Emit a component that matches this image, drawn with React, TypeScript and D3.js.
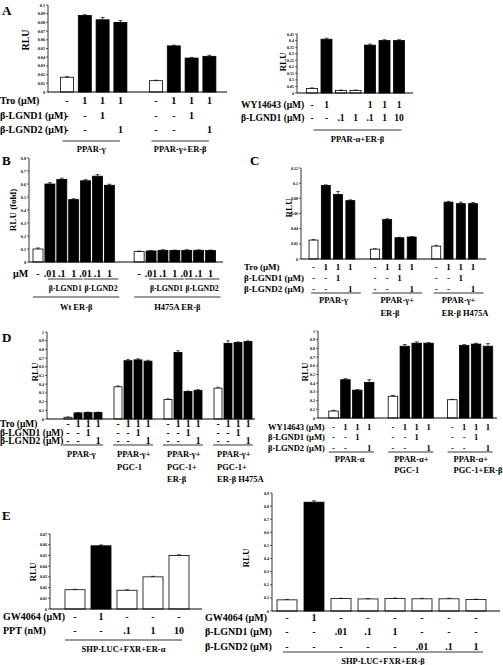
import React from "react";
import * as d3 from "d3";

const FONT = "'Liberation Serif','Times New Roman',Times,serif";

// ---------------- DATA ----------------
// Panel A (left)
const aLValues = [0.017, 0.088, 0.083, 0.080, 0.013, 0.053, 0.039, 0.041];
const aLErrors = [0.0006, 0.0008, 0.0025, 0.002, 0.0005, 0.0008, 0.0008, 0.0012];
const aLFills = [0, 1, 1, 1, 0, 1, 1, 1];
const aLGroupSizes = [4, 4];
const aLTicks = [0, 0.01, 0.02, 0.03, 0.04, 0.05, 0.06, 0.07, 0.08, 0.09, 0.1];
const aLRowNames = ["Tro (μM)", "β-LGND1 (μM)", "β-LGND2 (μM)"];
const aLRows = [
  ["-", "1", "1", "1", "-", "1", "1", "1"],
  ["-", "-", "1", "", "-", "-", "1", ""],
  ["-", "-", "", "1", "-", "-", "", "1"],
];
const aLGroups = [["PPAR-γ"], ["PPAR-γ+ER-β"]];

// Panel A (right)
const aRValues = [0.035, 0.41, 0.02, 0.02, 0.365, 0.40, 0.40];
const aRErrors = [0.004, 0.008, 0.002, 0.002, 0.008, 0.006, 0.006];
const aRFills = [0, 1, 0, 0, 1, 1, 1];
const aRGroupSizes = [7];
const aRTicks = [0, 0.05, 0.1, 0.15, 0.2, 0.25, 0.3, 0.35, 0.4, 0.45];
const aRRowNames = ["WY14643 (μM)", "β-LGND1 (μM)"];
const aRRows = [
  ["-", "1", "", "", "1", "1", "1"],
  ["-", "-", ".1", "1", ".1", "1", "10"],
];
const aRGroups = [["PPAR-α+ER-β"]];

// Panel B
const bValues = [0.1, 0.6, 0.635, 0.48, 0.625, 0.66, 0.59, 0.08, 0.085, 0.09, 0.088, 0.09, 0.09, 0.088];
const bErrors = [0.008, 0.01, 0.01, 0.006, 0.008, 0.012, 0.008, 0.004, 0.004, 0.004, 0.004, 0.004, 0.004, 0.004];
const bFills = [0, 1, 1, 1, 1, 1, 1, 0, 1, 1, 1, 1, 1, 1];
const bGroupSizes = [7, 7];
const bTicks = [0, 0.1, 0.2, 0.3, 0.4, 0.5, 0.6, 0.7, 0.8];
const bRowNames = ["μM"];
const bRows = [["-", ".01", ".1", "1", ".01", ".1", "1", "-", ".01", ".1", "1", ".01", ".1", "1"]];
const bSubLabels = ["β-LGND1", "β-LGND2", "β-LGND1", "β-LGND2"];
const bSubRanges = [[1, 3], [4, 6], [8, 10], [11, 13]];
const bGroups = [["Wt ER-β"], ["H475A ER-β"]];

// Panel C
const cValues = [0.025, 0.097, 0.085, 0.077, 0.013, 0.052, 0.028, 0.029, 0.017, 0.075, 0.073, 0.073];
const cErrors = [0.0005, 0.0008, 0.004, 0.001, 0.0005, 0.001, 0.0006, 0.0005, 0.001, 0.001, 0.002, 0.0015];
const cFills = [0, 1, 1, 1, 0, 1, 1, 1, 0, 1, 1, 1];
const cGroupSizes = [4, 4, 4];
const cTicks = [0, 0.02, 0.04, 0.06, 0.08, 0.1, 0.12];
const cRowNames = ["Tro (μM)", "β-LGND1 (μM)", "β-LGND2 (μM)"];
const cRows = [
  ["-", "1", "1", "1", "-", "1", "1", "1", "-", "1", "1", "1"],
  ["-", "-", "1", "", "-", "-", "1", "", "-", "-", "1", ""],
  ["-", "-", "", "1", "-", "-", "", "1", "-", "-", "", "1"],
];
const cGroups = [["PPAR-γ"], ["PPAR-γ+", "ER-β"], ["PPAR-γ+", "ER-β H475A"]];

// Panel D (left)
const dLValues = [0.02, 0.07, 0.075, 0.075, 0.37, 0.67, 0.68, 0.665, 0.225, 0.765, 0.315, 0.33, 0.355, 0.87, 0.88, 0.89];
const dLErrors = [0.004, 0.004, 0.004, 0.004, 0.01, 0.015, 0.012, 0.01, 0.006, 0.02, 0.006, 0.008, 0.01, 0.03, 0.006, 0.008];
const dLFills = [0, 1, 1, 1, 0, 1, 1, 1, 0, 1, 1, 1, 0, 1, 1, 1];
const dLGroupSizes = [4, 4, 4, 4];
const dTicks = [0, 0.1, 0.2, 0.3, 0.4, 0.5, 0.6, 0.7, 0.8, 0.9, 1];
const dLRowNames = ["Tro (μM)", "β-LGND1 (μM)", "β-LGND2 (μM)"];
const dLRows = [
  ["-", "1", "1", "1", "-", "1", "1", "1", "-", "1", "1", "1", "-", "1", "1", "1"],
  ["-", "-", "1", "", "-", "-", "1", "", "-", "-", "1", "", "-", "-", "1", ""],
  ["-", "-", "", "1", "-", "-", "", "1", "-", "-", "", "1", "-", "-", "", "1"],
];
const dLGroups = [["PPAR-γ"], ["PPAR-γ+", "PGC-1"], ["PPAR-γ+", "PGC-1+", "ER-β"], ["PPAR-γ+", "PGC-1+", "ER-β H475A"]];

// Panel D (right)
const dRValues = [0.08, 0.44, 0.32, 0.41, 0.25, 0.825, 0.86, 0.86, 0.21, 0.835, 0.85, 0.825];
const dRErrors = [0.008, 0.012, 0.006, 0.03, 0.01, 0.02, 0.015, 0.006, 0.004, 0.008, 0.01, 0.03];
const dRFills = [0, 1, 1, 1, 0, 1, 1, 1, 0, 1, 1, 1];
const dRGroupSizes = [4, 4, 4];
const dRRowNames = ["WY14643 (μM)", "β-LGND1 (μM)", "β-LGND2 (μM)"];
const dRRows = [
  ["-", "1", "1", "1", "-", "1", "1", "1", "-", "1", "1", "1"],
  ["-", "-", "1", "", "-", "-", "1", "", "-", "-", "1", ""],
  ["-", "-", "", "1", "-", "-", "", "1", "-", "-", "", "1"],
];
const dRGroups = [["PPAR-α"], ["PPAR-α+", "PGC-1"], ["PPAR-α+", "PGC-1+ER-β"]];

// Panel E (left)
const eLValues = [0.018, 0.059, 0.0175, 0.030, 0.050];
const eLErrors = [0.0004, 0.0008, 0.0004, 0.0005, 0.0006];
const eLFills = [0, 1, 0, 0, 0];
const eLGroupSizes = [5];
const eLTicks = [0, 0.01, 0.02, 0.03, 0.04, 0.05, 0.06, 0.07];
const eLRowNames = ["GW4064 (μM)", "PPT (nM)"];
const eLRows = [
  ["-", "1", "-", "-", "-"],
  ["-", "-", ".1", "1", "10"],
];
const eLGroups = [["SHP-LUC+FXR+ER-α"]];

// Panel E (right)
const eRValues = [0.085, 0.83, 0.095, 0.092, 0.095, 0.093, 0.093, 0.088];
const eRErrors = [0.003, 0.01, 0.002, 0.003, 0.003, 0.003, 0.004, 0.002];
const eRFills = [0, 1, 0, 0, 0, 0, 0, 0];
const eRGroupSizes = [8];
const eRTicks = [0, 0.1, 0.2, 0.3, 0.4, 0.5, 0.6, 0.7, 0.8, 0.9];
const eRRowNames = ["GW4064 (μM)", "β-LGND1 (μM)", "β-LGND2 (μM)"];
const eRRows = [
  ["-", "1", "-", "-", "-", "-", "-", "-"],
  ["-", "-", ".01", ".1", "1", "-", "-", "-"],
  ["-", "-", "-", "-", "-", ".01", ".1", "1"],
];
const eRGroups = [["SHP-LUC+FXR+ER-β"]];

const panelLetters = ["A", "B", "C", "D", "E"];

// ---------------- LAYOUT ----------------
type Panel = {
  values: number[]; errors: number[]; fills: number[]; groupSizes: number[];
  gapSlots: number; xLeft: number; xRight: number; barFrac: number;
  axisX: number; axisEnd: number; y0: number; yTopPx: number; yMax: number;
  ticks: number[]; tickSize: number;
  yLabel: string; yLabelX: number; yLabelY: number; yLabelSize: number;
  rowNames: string[]; rows: string[][]; rowYs: number[]; rowNameX: number; rowSize: number;
  groups: string[][]; lineY: number; lineExt: [number, number];
  labelY: number; labelLH: number; labelAlign: "middle" | "start"; labelDx: number; labelSize: number;
  sub?: { labels: string[]; ranges: number[][]; lineY: number; labelY: number; ext: [number, number]; size: number };
};

const panels: Panel[] = [
  {
    values: aLValues, errors: aLErrors, fills: aLFills, groupSizes: aLGroupSizes,
    gapSlots: 1, xLeft: 58.1, xRight: 218.3, barFrac: 0.73,
    axisX: 48, axisEnd: 227, y0: 92, yTopPx: 5, yMax: 0.1, ticks: aLTicks, tickSize: 4.2,
    yLabel: "RLU", yLabelX: 25, yLabelY: 40, yLabelSize: 10,
    rowNames: aLRowNames, rows: aLRows, rowYs: [100, 115, 129.5], rowNameX: 0, rowSize: 10,
    groups: aLGroups, lineY: 141, lineExt: [2, -7], labelY: 149, labelLH: 11, labelAlign: "middle", labelDx: 0, labelSize: 8.5,
  },
  {
    values: aRValues, errors: aRErrors, fills: aRFills, groupSizes: aRGroupSizes,
    gapSlots: 0, xLeft: 304.75, xRight: 406.25, barFrac: 0.76,
    axisX: 297, axisEnd: 413, y0: 93, yTopPx: 34, yMax: 0.45, ticks: aRTicks, tickSize: 4,
    yLabel: "RLU", yLabelX: 283, yLabelY: 62, yLabelSize: 9,
    rowNames: aRRowNames, rows: aRRows, rowYs: [105, 118], rowNameX: 241, rowSize: 9.5,
    groups: aRGroups, lineY: 130, lineExt: [7, -3], labelY: 139, labelLH: 11, labelAlign: "middle", labelDx: 0, labelSize: 8.5,
  },
  {
    values: bValues, errors: bErrors, fills: bFills, groupSizes: bGroupSizes,
    gapSlots: 1.5, xLeft: 32.05, xRight: 216.5, barFrac: 0.84,
    axisX: 29, axisEnd: 223, y0: 262, yTopPx: 158, yMax: 0.8, ticks: bTicks, tickSize: 4.2,
    yLabel: "RLU (fold)", yLabelX: 13, yLabelY: 210, yLabelSize: 9,
    rowNames: bRowNames, rows: bRows, rowYs: [273], rowNameX: 13, rowSize: 10,
    groups: bGroups, lineY: 297, lineExt: [0, 5], labelY: 307, labelLH: 11, labelAlign: "middle", labelDx: 0, labelSize: 8.5,
    sub: { labels: bSubLabels, ranges: bSubRanges, lineY: 279, labelY: 288, ext: [3, 4], size: 7.8 },
  },
  {
    values: cValues, errors: cErrors, fills: cFills, groupSizes: cGroupSizes,
    gapSlots: 1, xLeft: 307.4, xRight: 479.2, barFrac: 0.73,
    axisX: 301, axisEnd: 486, y0: 259, yTopPx: 168, yMax: 0.12, ticks: cTicks, tickSize: 4,
    yLabel: "RLU", yLabelX: 289, yLabelY: 208, yLabelSize: 9,
    rowNames: cRowNames, rows: cRows, rowYs: [267, 278, 288.5], rowNameX: 244, rowSize: 9,
    groups: cGroups, lineY: 293, lineExt: [2, 6], labelY: 300, labelLH: 13, labelAlign: "start", labelDx: 10, labelSize: 8.5,
  },
  {
    values: dLValues, errors: dLErrors, fills: dLFills, groupSizes: dLGroupSizes,
    gapSlots: 1, xLeft: 63, xRight: 253, barFrac: 0.8,
    axisX: 47, axisEnd: 255, y0: 419, yTopPx: 332, yMax: 1, ticks: dTicks, tickSize: 4,
    yLabel: "RLU", yLabelX: 35, yLabelY: 372, yLabelSize: 9,
    rowNames: dLRowNames, rows: dLRows, rowYs: [424, 432.5, 441], rowNameX: 0, rowSize: 9.5,
    groups: dLGroups, lineY: 445, lineExt: [-1, 1], labelY: 454, labelLH: 12.5, labelAlign: "start", labelDx: 3, labelSize: 8.5,
  },
  {
    values: dRValues, errors: dRErrors, fills: dRFills, groupSizes: dRGroupSizes,
    gapSlots: 1, xLeft: 327.6, xRight: 493.9, barFrac: 0.8,
    axisX: 318, axisEnd: 497, y0: 418, yTopPx: 331, yMax: 1, ticks: dTicks, tickSize: 4,
    yLabel: "RLU", yLabelX: 305, yLabelY: 372, yLabelSize: 9,
    rowNames: dRRowNames, rows: dRRows, rowYs: [427, 437, 448], rowNameX: 268, rowSize: 8.5,
    groups: dRGroups, lineY: 452, lineExt: [0, 0], labelY: 459, labelLH: 10.5, labelAlign: "start", labelDx: 6, labelSize: 8.5,
  },
  {
    values: eLValues, errors: eLErrors, fills: eLFills, groupSizes: eLGroupSizes,
    gapSlots: 0, xLeft: 62, xRight: 192, barFrac: 0.77,
    axisX: 50, axisEnd: 202, y0: 609, yTopPx: 534, yMax: 0.07, ticks: eLTicks, tickSize: 4,
    yLabel: "RLU", yLabelX: 33, yLabelY: 572, yLabelSize: 9,
    rowNames: eLRowNames, rows: eLRows, rowYs: [616, 630], rowNameX: 3, rowSize: 10,
    groups: eLGroups, lineY: 640, lineExt: [0, -7], labelY: 649, labelLH: 11, labelAlign: "middle", labelDx: 0, labelSize: 8.5,
  },
  {
    values: eRValues, errors: eRErrors, fills: eRFills, groupSizes: eRGroupSizes,
    gapSlots: 0, xLeft: 273.5, xRight: 489.5, barFrac: 0.74,
    axisX: 272, axisEnd: 500, y0: 611, yTopPx: 493, yMax: 0.9, ticks: eRTicks, tickSize: 4,
    yLabel: "RLU", yLabelX: 246, yLabelY: 558, yLabelSize: 9,
    rowNames: eRRowNames, rows: eRRows, rowYs: [617, 631, 646], rowNameX: 205, rowSize: 10,
    groups: eRGroups, lineY: 652, lineExt: [6, -3], labelY: 661, labelLH: 11, labelAlign: "middle", labelDx: 0, labelSize: 8.5,
  },
];

const letterPos = [[2, 10], [2, 160], [250, 160], [2, 337], [2, 515]];

function BarPanel({ p }: { p: Panel }) {
  const slots: number[] = [];
  const groupStart: number[] = [];
  const groupEnd: number[] = [];
  let idx = 0;
  p.groupSizes.forEach((gs, g) => {
    groupStart.push(idx);
    for (let i = 0; i < gs; i++) {
      slots.push(idx + g * p.gapSlots);
      idx++;
    }
    groupEnd.push(idx - 1);
  });
  const total = p.values.length + (p.groupSizes.length - 1) * p.gapSlots;
  const x = d3.scaleLinear().domain([0, total]).range([p.xLeft, p.xRight]);
  const y = d3.scaleLinear().domain([0, p.yMax]).range([p.y0, p.yTopPx]);
  const bw = (x(1) - x(0)) * p.barFrac;
  const cx = (i: number) => x(slots[i] + 0.5);
  const capW = Math.min(4, bw * 0.4);

  return (
    <g>
      {p.values.map((v, i) => (
        <rect key={"b" + i} x={cx(i) - bw / 2} y={y(v)} width={bw} height={p.y0 - y(v)}
          fill={p.fills[i] ? "#000" : "#fff"} stroke="#000" strokeWidth={0.8} />
      ))}
      {p.values.map((v, i) => (
        <g key={"e" + i} stroke="#000" strokeWidth={0.7}>
          <line x1={cx(i)} x2={cx(i)} y1={y(v)} y2={y(v + p.errors[i])} />
          <line x1={cx(i) - capW / 2} x2={cx(i) + capW / 2} y1={y(v + p.errors[i])} y2={y(v + p.errors[i])} />
        </g>
      ))}
      <line x1={p.axisX} x2={p.axisX} y1={p.y0} y2={y(p.yMax)} stroke="#000" strokeWidth={0.8} />
      <line x1={p.axisX} x2={p.axisEnd} y1={p.y0} y2={p.y0} stroke="#000" strokeWidth={1} />
      {p.ticks.map((t, i) => (
        <g key={"t" + i}>
          <line x1={p.axisX - 2} x2={p.axisX} y1={y(t)} y2={y(t)} stroke="#000" strokeWidth={0.6} />
          <text x={p.axisX - 3} y={y(t)} fontSize={p.tickSize} textAnchor="end" dominantBaseline="central">{String(t)}</text>
        </g>
      ))}
      <text transform={`translate(${p.yLabelX},${p.yLabelY}) rotate(-90)`} fontSize={p.yLabelSize}
        textAnchor="middle" dominantBaseline="central">{p.yLabel}</text>
      {p.rowNames.map((name, r) => (
        <g key={"r" + r}>
          <text x={p.rowNameX} y={p.rowYs[r]} fontSize={p.rowSize} dominantBaseline="central">{name}</text>
          {p.rows[r].map((s, i) => s ? (
            <text key={i} x={cx(i)} y={p.rowYs[r]} fontSize={p.rowSize} textAnchor="middle" dominantBaseline="central">{s}</text>
          ) : null)}
        </g>
      ))}
      {p.sub && p.sub.ranges.map((rg, k) => {
        const x1 = cx(rg[0]) - bw / 2 + p.sub!.ext[0];
        const x2 = cx(rg[1]) + bw / 2 + p.sub!.ext[1];
        return (
          <g key={"s" + k}>
            <line x1={x1} x2={x2} y1={p.sub!.lineY} y2={p.sub!.lineY} stroke="#000" strokeWidth={0.8} />
            <text x={(x1 + x2) / 2} y={p.sub!.labelY} fontSize={p.sub!.size} textAnchor="middle" dominantBaseline="central">{p.sub!.labels[k]}</text>
          </g>
        );
      })}
      {p.groups.map((lines, g) => {
        const x1 = cx(groupStart[g]) - bw / 2 + p.lineExt[0];
        const x2 = cx(groupEnd[g]) + bw / 2 + p.lineExt[1];
        const lx = p.labelAlign === "middle" ? (x1 + x2) / 2 : cx(groupStart[g]) - bw / 2 + p.labelDx;
        return (
          <g key={"g" + g}>
            <line x1={x1} x2={x2} y1={p.lineY} y2={p.lineY} stroke="#000" strokeWidth={0.8} />
            {lines.map((t, k) => (
              <text key={k} x={lx} y={p.labelY + k * p.labelLH} fontSize={p.labelSize}
                textAnchor={p.labelAlign} dominantBaseline="central">{t}</text>
            ))}
          </g>
        );
      })}
    </g>
  );
}

export default function App() {
  return (
    <svg width={503} height={665} viewBox="0 0 503 665"
      style={{ position: "absolute", left: 0, top: 0, background: "#fff" }}
      fontFamily={FONT} fontWeight="bold" fill="#000">
      <rect x={0} y={0} width={503} height={665} fill="#fff" />
      {panels.map((p, i) => <BarPanel key={i} p={p} />)}
      {panelLetters.map((l, i) => (
        <text key={l} x={letterPos[i][0]} y={letterPos[i][1]} fontSize={13} dominantBaseline="central">{l}</text>
      ))}
    </svg>
  );
}
